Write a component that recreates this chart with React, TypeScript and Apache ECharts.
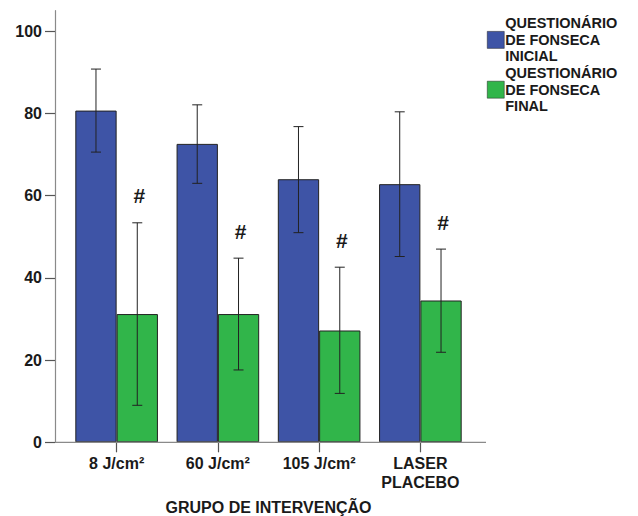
import React, { useEffect, useRef } from 'react';
import * as echarts from 'echarts';

const categories = ['8 J/cm²', '60 J/cm²', '105 J/cm²', 'LASER\nPLACEBO'];
const seriesNames = ['QUESTIONÁRIO\nDE FONSECA\nINICIAL', 'QUESTIONÁRIO\nDE FONSECA\nFINAL'];
const initialMeans = [80.7, 72.6, 64.0, 62.8];
const initialLow = [70.6, 63.0, 51.0, 45.2];
const initialHigh = [90.8, 82.1, 76.8, 80.4];
const finalMeans = [31.2, 31.2, 27.2, 34.5];
const finalLow = [9.0, 17.6, 11.9, 21.9];
const finalHigh = [53.4, 44.8, 42.6, 47.0];
const yTicks = [0, 20, 40, 60, 80, 100];
const markSymbol = '#';

const BLUE = '#3E54A6';
const GREEN = '#31B54A';
const AXIS = '#8a8a8a';
const TEXT = '#1a1a1a';
const FONT = '"Liberation Sans", Arial, sans-serif';

const GRID_LEFT = 66;
const GRID_TOP = 10.7;
const GRID_W = 405;
const GRID_H = 431.6;
const CAT_GAP = 0.184;

function errorSeries(name: string, lows: number[], highs: number[], side: number, withMark: boolean) {
  return {
    type: 'custom',
    name: name + '_err',
    silent: true,
    z: 10,
    data: lows.map((l, i) => [i, l, highs[i]]),
    renderItem: (params: any, api: any) => {
      const idx = api.value(0);
      const lo = api.coord([idx, api.value(1)]);
      const hi = api.coord([idx, api.value(2)]);
      const band = api.size([1, 0])[0];
      const bw = (band * (1 - CAT_GAP)) / 2;
      const x = lo[0] + (side * bw) / 2;
      const cap = 5;
      const children: any[] = [
        { type: 'line', shape: { x1: x, y1: hi[1], x2: x, y2: lo[1] }, style: { stroke: '#222', lineWidth: 1 } },
        { type: 'line', shape: { x1: x - cap, y1: hi[1], x2: x + cap, y2: hi[1] }, style: { stroke: '#222', lineWidth: 1 } },
        { type: 'line', shape: { x1: x - cap, y1: lo[1], x2: x + cap, y2: lo[1] }, style: { stroke: '#222', lineWidth: 1 } },
      ];
      if (withMark) {
        children.push({
          type: 'text',
          x: x + 2,
          y: hi[1] - 27,
          style: {
            text: markSymbol,
            fill: TEXT,
            font: `bold 21px ${FONT}`,
            align: 'center',
            verticalAlign: 'middle',
          },
        });
      }
      return { type: 'group', children };
    },
  };
}

export default function App() {
  const ref = useRef<HTMLDivElement>(null);
  useEffect(() => {
    if (!ref.current) return;
    const chart = echarts.init(ref.current, undefined, { renderer: 'svg' });
    const axisBottom = GRID_TOP + GRID_H;
    chart.setOption({
      animation: false,
      backgroundColor: '#ffffff',
      textStyle: { fontFamily: FONT },
      grid: { left: GRID_LEFT, top: GRID_TOP, width: GRID_W, height: GRID_H, containLabel: false, outerBoundsMode: 'none' },
      legend: {
        orient: 'vertical',
        left: 482,
        top: 10,
        itemWidth: 17,
        itemHeight: 17,
        itemGap: 0,
        icon: 'rect',
        data: seriesNames.map((n) => ({ name: n, itemStyle: { borderColor: '#222', borderWidth: 0.5 } })),
        textStyle: { fontFamily: FONT, fontWeight: 'bold', fontSize: 14.5, color: TEXT, lineHeight: 16.6, padding: [0, 0, 0, -4] },
      },
      graphic: [
        {
          type: 'line',
          z: 5,
          shape: { x1: GRID_LEFT - 11, y1: axisBottom, x2: GRID_LEFT + GRID_W + 15, y2: axisBottom },
          style: { stroke: AXIS, lineWidth: 1.2 },
        },
      ],
      xAxis: {
        type: 'category',
        data: categories,
        boundaryGap: true,
        name: 'GRUPO DE INTERVENÇÃO',
        nameLocation: 'middle',
        nameGap: 57,
        nameTextStyle: { fontFamily: FONT, fontWeight: 'bold', fontSize: 16, color: TEXT },
        axisLine: { show: false },
        axisTick: { show: true, alignWithLabel: true, length: 10, lineStyle: { color: '#555', width: 1.2 } },
        axisLabel: { fontFamily: FONT, fontWeight: 'bold', fontSize: 16, color: TEXT, margin: 12, lineHeight: 18.5, interval: 0 },
        splitLine: { show: false },
      },
      yAxis: {
        type: 'value',
        min: 0,
        max: 105,
        interval: 20,
        offset: 11,
        axisLine: { show: true, lineStyle: { color: AXIS, width: 1.2 } },
        axisTick: { show: true, length: 10, customValues: yTicks, lineStyle: { color: '#555', width: 1.2 } },
        axisLabel: { fontFamily: FONT, fontWeight: 'bold', fontSize: 16, color: TEXT, margin: 13, customValues: yTicks },
        splitLine: { show: false },
      },
      series: [
        {
          type: 'bar',
          name: seriesNames[0],
          data: initialMeans,
          barGap: '0%',
          barCategoryGap: `${CAT_GAP * 100}%`,
          itemStyle: { color: BLUE, borderColor: '#222', borderWidth: 1 },
        },
        {
          type: 'bar',
          name: seriesNames[1],
          data: finalMeans,
          barGap: '0%',
          barCategoryGap: `${CAT_GAP * 100}%`,
          itemStyle: { color: GREEN, borderColor: '#222', borderWidth: 1 },
        },
        errorSeries(seriesNames[0], initialLow, initialHigh, -1, false),
        errorSeries(seriesNames[1], finalLow, finalHigh, 1, true),
      ],
    });
    return () => chart.dispose();
  }, []);
  return <div ref={ref} style={{ position: 'fixed', left: 0, top: 0, width: 638, height: 516 }} />;
}
